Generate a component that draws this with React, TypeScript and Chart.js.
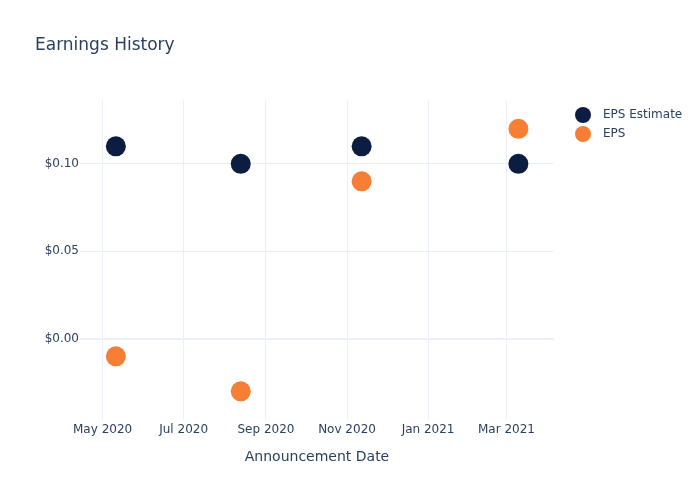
import React, { useEffect, useRef } from "react";
import { Chart, registerables } from "chart.js";

Chart.register(...registerables);

const announcementDates = ["2020-05-11", "2020-08-13", "2020-11-12", "2021-03-10"];
const epsEstimate = [0.11, 0.1, 0.11, 0.1];
const epsActual = [-0.01, -0.03, 0.09, 0.12];
const monthTickDates = ["2020-05-01", "2020-07-01", "2020-09-01", "2020-11-01", "2021-01-01", "2021-03-01"];
const monthTickLabels = ["May 2020", "Jul 2020", "Sep 2020", "Nov 2020", "Jan 2021", "Mar 2021"];
const yTickValues = [0, 0.05, 0.1];

const EPOCH = Date.UTC(2020, 4, 1);
const toDay = (s: string) => {
  const [y, m, d] = s.split("-").map(Number);
  return (Date.UTC(y, m - 1, d) - EPOCH) / 86400000;
};

const FONT = "'DejaVu Sans', sans-serif";
const TEXT = "#2a3f5f";
const GRID = "#ebf0f8";
const NAVY = "#0b1e41";
const ORANGE = "#f77f35";

const overlay = {
  id: "overlay",
  afterDraw(chart: any) {
    const ctx = chart.ctx;
    const area = chart.chartArea;
    ctx.save();
    ctx.fillStyle = TEXT;
    ctx.textBaseline = "alphabetic";
    ctx.textAlign = "left";
    ctx.font = `17px ${FONT}`;
    ctx.fillText("Earnings History", 35, 50);
    ctx.font = `14px ${FONT}`;
    ctx.textAlign = "center";
    ctx.fillText("Announcement Date", (area.left + area.right) / 2, 461);
    const items = [
      { label: "EPS Estimate", color: NAVY },
      { label: "EPS", color: ORANGE },
    ];
    ctx.textAlign = "left";
    ctx.textBaseline = "middle";
    ctx.font = `12px ${FONT}`;
    items.forEach((it, i) => {
      const cy = 115 + i * 19;
      ctx.beginPath();
      ctx.arc(583, cy, 8, 0, Math.PI * 2);
      ctx.fillStyle = it.color;
      ctx.fill();
      ctx.fillStyle = TEXT;
      ctx.fillText(it.label, 603, cy);
    });
    ctx.restore();
  },
};

export default function App() {
  const ref = useRef<HTMLCanvasElement | null>(null);
  useEffect(() => {
    if (!ref.current) return;
    const xs = announcementDates.map(toDay);
    const tickVals = monthTickDates.map(toDay);
    const chart = new Chart(ref.current, {
      type: "scatter",
      data: {
        datasets: [
          {
            label: "EPS Estimate",
            data: xs.map((x, i) => ({ x, y: epsEstimate[i] })),
            backgroundColor: NAVY,
            borderColor: NAVY,
            pointRadius: 10,
            pointHoverRadius: 10,
            borderWidth: 0,
          },
          {
            label: "EPS",
            data: xs.map((x, i) => ({ x, y: epsActual[i] })),
            backgroundColor: ORANGE,
            borderColor: ORANGE,
            pointRadius: 10,
            pointHoverRadius: 10,
            borderWidth: 0,
          },
        ],
      },
      options: {
        responsive: false,
        animation: false,
        layout: { padding: { left: 0, right: 146, top: 100, bottom: 0 } },
        plugins: { legend: { display: false }, title: { display: false }, tooltip: { enabled: false } },
        scales: {
          x: {
            type: "linear",
            min: -17.0,
            max: 339.8,
            afterBuildTicks: (scale: any) => {
              scale.ticks = tickVals.map((v) => ({ value: v }));
            },
            afterFit: (scale: any) => {
              scale.height = 80;
            },
            ticks: {
              autoSkip: false,
              maxRotation: 0,
              padding: 3,
              color: TEXT,
              font: { family: FONT, size: 12 },
              callback: (v: any) => {
                const idx = tickVals.findIndex((t) => Math.abs(t - Number(v)) < 0.01);
                return idx >= 0 ? monthTickLabels[idx] : "";
              },
            },
            grid: { color: GRID, lineWidth: 1, drawTicks: false },
            border: { display: false },
          },
          y: {
            min: -0.0464,
            max: 0.1365,
            afterBuildTicks: (scale: any) => {
              scale.ticks = yTickValues.map((v) => ({ value: v }));
            },
            afterFit: (scale: any) => {
              scale.width = 80;
            },
            ticks: {
              padding: 1,
              color: TEXT,
              font: { family: FONT, size: 12 },
              callback: (v: any) => "$" + Number(v).toFixed(2),
            },
            grid: {
              color: GRID,
              lineWidth: (c: any) => (c.tick && c.tick.value === 0 ? 2 : 1),
              drawTicks: false,
            },
            border: { display: false },
          },
        },
      },
      plugins: [overlay],
    });
    return () => chart.destroy();
  }, []);
  return (
    <div style={{ position: "absolute", left: 0, top: 0, width: 700, height: 500, background: "#fff" }}>
      <canvas ref={ref} width={700} height={500} />
    </div>
  );
}
